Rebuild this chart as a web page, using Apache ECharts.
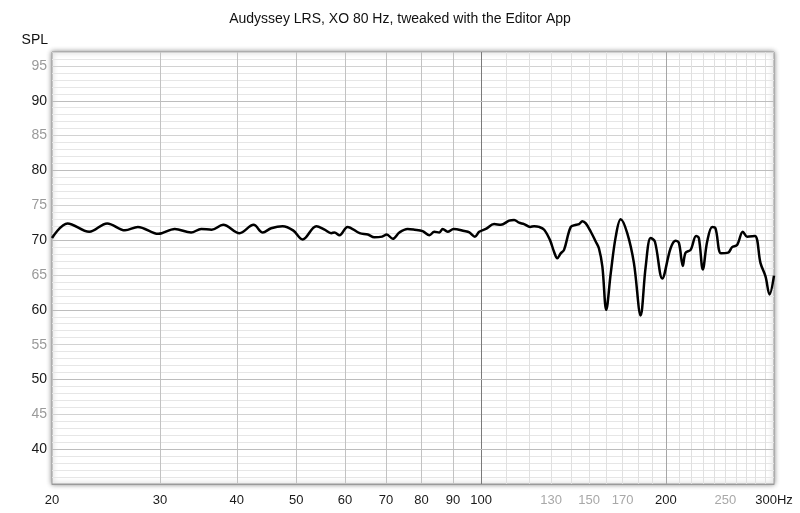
<!DOCTYPE html>
<html>
<head>
<meta charset="utf-8">
<script src="https://cdn.jsdelivr.net/npm/echarts@6/dist/echarts.min.js"></script>
<style>
html,body{margin:0;padding:0;background:#fff;}
#chart{width:800px;height:513px;}
</style>
</head>
<body>
<div id="chart"></div>
<script>
// Frequencies (Hz) and SPL (dB)
const freqs = [20, 21.2, 23.0, 24.6, 26.3, 27.6, 29.8, 31.7, 33.7, 35.0, 36.4, 38.0, 40.4, 42.6, 44.1, 45.5, 47.5, 49.4, 51.2,
  53.9, 55.6, 57.0, 57.7, 58.8, 60.6, 63.4, 65.4, 67.0, 69.0, 70.2, 71.8, 73.6, 75.9, 77.9, 80.3, 82.4, 83.9, 85.5, 86.6,
  88.2, 90.2, 93.9, 95.7, 97.7, 99.3, 101.8, 105.0, 107.7, 111.1, 113.2, 115.3, 117.5, 120.2, 122.0, 124.3, 126.7, 129.5,
  131.5, 133.1, 134.8, 136.5, 140.0, 142.9, 144.4, 146.2, 148.1, 150.9, 153.7, 155.6, 157.6, 159.9, 162.6, 165.7, 168.8,
  173.0, 177.4, 181.9, 185.4, 188.9, 191.9, 197.3, 203.5, 207.4, 210.0, 213.1, 215.3, 219.4, 224.0, 226.3, 229.7, 233.5,
  237.9, 240.9, 246.0, 252.6, 256.4, 261.2, 266.9, 271.2, 279.2, 285.2, 290.6, 295.0, 300];
const spl = [70.3, 72.4, 71.2, 72.4, 71.4, 71.9, 70.9, 71.6, 71.1, 71.6, 71.5, 72.2, 71.0, 72.2, 71.1, 71.7, 72.0, 71.4, 70.1,
  72.0, 71.5, 71.0, 71.1, 70.7, 71.9, 71.0, 70.8, 70.4, 70.5, 70.8, 70.2, 71.1, 71.6, 71.5, 71.3, 70.7, 71.2, 71.1, 71.6,
  71.2, 71.6, 71.3, 71.1, 70.5, 71.2, 71.6, 72.3, 72.2, 72.8, 72.9, 72.5, 72.3, 71.9, 72.0, 71.9, 71.5, 70.0,
  68.3, 67.4, 68.1, 68.6, 71.9, 72.2, 72.3, 72.7, 72.4, 71.2, 69.8, 68.8, 66.2, 60.0, 65.2, 70.5, 73.0,
  71.0, 66.7, 59.2, 66.2, 70.3, 69.8, 64.5, 68.8, 69.9, 69.6, 66.3, 68.2, 68.6, 70.6, 70.3, 65.8, 69.8,
  71.9, 71.7, 68.1, 68.2, 69.0, 69.3, 71.2, 70.5, 70.6, 66.7, 64.8, 62.2, 64.9];

// Tick labels
const xLabelValues = [20, 30, 40, 50, 60, 70, 80, 90, 100, 130, 150, 170, 200, 250, 300];
const xGrayLabels = [130, 150, 170, 250];
const xMajorGrid = [30, 40, 50, 60, 70, 80, 90];
const xDecadeGrid = [100];
const xMidGrid = [200];
const xMinorGrid = [110, 120, 130, 140, 150, 160, 170, 180, 190, 210, 220, 230, 240, 250, 260, 270, 280, 290];
const yMajorGrid = [40, 50, 60, 70, 80, 90];

const chart = echarts.init(document.getElementById('chart'), null, {renderer: 'canvas'});

const gridLines = []
  .concat(xMinorGrid.map(v => ({xAxis: v, lineStyle: {color: '#e0e0e0', width: 1, type: 'solid'}})))
  .concat(xMajorGrid.map(v => ({xAxis: v, lineStyle: {color: '#c2c2c2', width: 1, type: 'solid'}})))
  .concat(xMidGrid.map(v => ({xAxis: v, lineStyle: {color: '#a6a6a6', width: 1, type: 'solid'}})))
  .concat(xDecadeGrid.map(v => ({xAxis: v, lineStyle: {color: '#7a7a7a', width: 1, type: 'solid'}})))
  .concat(yMajorGrid.map(v => ({yAxis: v, lineStyle: {color: '#bdbdbd', width: 1, type: 'solid'}})));

const font = '"Liberation Sans", Arial, sans-serif';

chart.setOption({
  animation: false,
  backgroundColor: '#ffffff',
  title: {
    text: 'Audyssey LRS, XO 80 Hz, tweaked with the Editor App',
    left: 'center',
    top: 7,
    textStyle: {fontFamily: font, fontSize: 14, fontWeight: 'normal', color: '#111'}
  },
  grid: {
    left: 52, right: 26, top: 52, bottom: 29,
    show: true,
    backgroundColor: '#ffffff',
    borderColor: '#9a9a9a',
    borderWidth: 1,
    shadowColor: 'rgba(0,0,0,0.45)',
    shadowBlur: 5,
    shadowOffsetX: 0,
    shadowOffsetY: 0
  },
  xAxis: {
    type: 'log',
    logBase: 10,
    min: 20,
    max: 300,
    axisLine: {show: true, lineStyle: {color: '#9a9a9a', width: 1}},
    axisTick: {show: false},
    splitLine: {show: false},
    minorTick: {show: false},
    minorSplitLine: {show: false},
    axisLabel: {
      customValues: xLabelValues,
      margin: 10,
      fontFamily: font,
      fontSize: 13,
      formatter: v => (Math.round(v) === 300 ? '300Hz' : String(Math.round(v))),
      color: v => (xGrayLabels.indexOf(Math.round(v)) >= 0 ? '#a8a8a8' : '#1a1a1a')
    }
  },
  yAxis: {
    type: 'value',
    name: 'SPL',
    nameLocation: 'end',
    nameGap: 5,
    nameTextStyle: {fontFamily: font, fontSize: 14, color: '#111', align: 'right', padding: [0, 4, 0, 0]},
    min: 35,
    max: 97,
    interval: 5,
    axisLine: {show: false},
    axisTick: {show: false},
    axisLabel: {
      margin: 5,
      fontFamily: font,
      fontSize: 14,
      formatter: v => (v >= 40 && v % 5 === 0 ? String(v) : ''),
      color: v => (v % 10 === 0 ? '#1a1a1a' : '#9a9a9a')
    },
    splitLine: {show: true, lineStyle: {color: '#d2d2d2', width: 1}},
    minorTick: {show: false, splitNumber: 5},
    minorSplitLine: {show: true, lineStyle: {color: '#e6e6e6', width: 1}}
  },
  series: [
    {
      type: 'line',
      name: 'grid',
      data: [],
      z: 1,
      silent: true,
      markLine: {
        silent: true,
        symbol: ['none', 'none'],
        label: {show: false},
        animation: false,
        data: gridLines
      }
    },
    {
      type: 'line',
      name: 'SPL',
      z: 5,
      data: freqs.map((f, i) => [f, spl[i]]),
      showSymbol: false,
      symbol: 'none',
      smooth: 0.35,
      lineStyle: {color: '#000000', width: 2.5},
      clip: true
    }
  ]
});
</script>
</body>
</html>
